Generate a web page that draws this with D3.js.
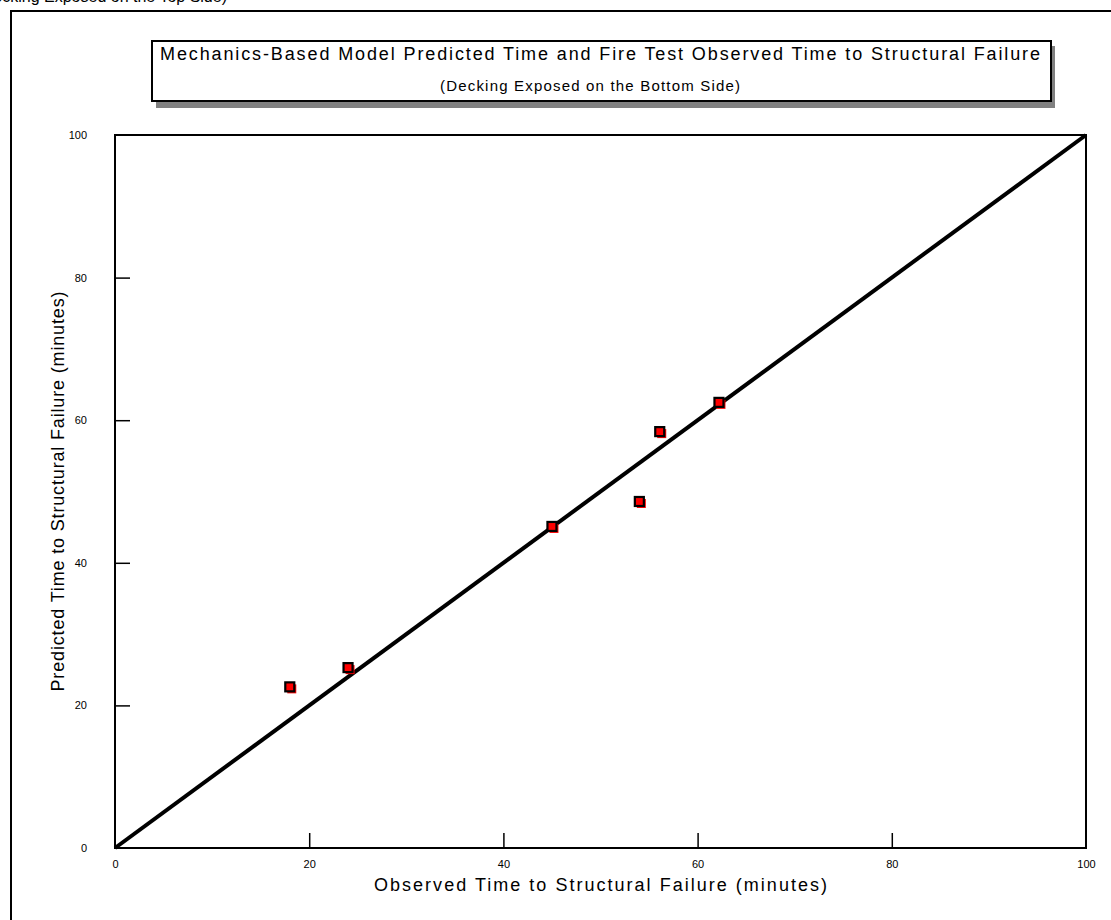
<!DOCTYPE html>
<html>
<head>
<meta charset="utf-8">
<script src="https://cdn.jsdelivr.net/npm/d3@7"></script>
<style>
  html, body { margin: 0; padding: 0; background: #fff; }
  svg { display: block; font-family: Arial, "Liberation Sans", sans-serif; }
</style>
</head>
<body>
<svg id="chart" width="1111" height="920"></svg>
<script>
// ---- data ----
const observed = [18.0, 24.0, 45.0, 54.0, 56.1, 62.2];
const predicted = [22.6, 25.3, 45.1, 48.6, 58.4, 62.5];
const refLineX = [0, 100];
const refLineY = [0, 100];
const xTicks = [0, 20, 40, 60, 80, 100];
const yTicks = [0, 20, 40, 60, 80, 100];
const titleLine1 = "Mechanics-Based Model Predicted Time and Fire Test Observed Time to Structural Failure";
const titleLine2 = "(Decking Exposed on the Bottom Side)";
const xTitle = "Observed Time to Structural Failure (minutes)";
const yTitle = "Predicted Time to Structural Failure (minutes)";
const clippedCaption = "(Decking Exposed on the Top Side)";

const svg = d3.select("#chart");

// clipped text from previous figure at the very top
svg.append("text").attr("x", 227).attr("y", 2).attr("text-anchor", "end")
  .attr("font-size", 16).attr("fill", "#000").text(clippedCaption);

// outer frame (extends off-canvas right/bottom)
svg.append("path").attr("d", "M11,925 L11,11 L1120,11")
  .attr("fill", "none").attr("stroke", "#000").attr("stroke-width", 2);

// plot area
const pLeft = 115, pRight = 1086, pTop = 135, pBottom = 848;
const x = d3.scaleLinear().domain([0, 100]).range([pLeft, pRight]);
const y = d3.scaleLinear().domain([0, 100]).range([pBottom, pTop]);

// frame of plot
svg.append("rect").attr("x", pLeft).attr("y", pTop)
  .attr("width", pRight - pLeft).attr("height", pBottom - pTop)
  .attr("fill", "none").attr("stroke", "#000").attr("stroke-width", 2);

// axes with inward ticks
const yAxis = d3.axisLeft(y).tickValues(yTicks).tickSize(-15).tickPadding(28).tickFormat(d3.format("d"));
const gy = svg.append("g").attr("transform", `translate(${pLeft},0)`).call(yAxis);
gy.select(".domain").remove();
gy.selectAll(".tick line").attr("stroke", "#000").attr("stroke-width", 1.5)
  .filter(d => d === 0 || d === 100).remove();
gy.selectAll(".tick text").attr("font-size", 11).attr("fill", "#000")
  .attr("font-family", "Arial, 'Liberation Sans', sans-serif");

const xAxis = d3.axisBottom(x).tickValues(xTicks).tickSize(-15).tickPadding(12).tickFormat(d3.format("d"));
const gx = svg.append("g").attr("transform", `translate(0,${pBottom})`).call(xAxis);
gx.select(".domain").remove();
gx.selectAll(".tick line").attr("stroke", "#000").attr("stroke-width", 1.5)
  .filter(d => d === 0 || d === 100).remove();
gx.selectAll(".tick text").attr("font-size", 11).attr("fill", "#000")
  .attr("font-family", "Arial, 'Liberation Sans', sans-serif");

// reference line y = x
const line = d3.line().x(d => x(d[0])).y(d => y(d[1]));
svg.append("path").datum(d3.zip(refLineX, refLineY))
  .attr("d", line).attr("fill", "none").attr("stroke", "#000")
  .attr("stroke-width", 4);

// points
const pts = d3.zip(observed, predicted);
const s = 9;
svg.append("g").selectAll("rect").data(pts).join("rect")
  .attr("x", d => x(d[0]) - s / 2 + 2).attr("y", d => y(d[1]) - s / 2 + 2)
  .attr("width", s).attr("height", s).attr("fill", "#ff0000");
svg.append("g").selectAll("rect").data(pts).join("rect")
  .attr("x", d => x(d[0]) - s / 2).attr("y", d => y(d[1]) - s / 2)
  .attr("width", s).attr("height", s).attr("fill", "#ff0000")
  .attr("stroke", "#000").attr("stroke-width", 2.2);

// axis titles
svg.append("text").attr("x", (pLeft + pRight) / 2).attr("y", 891)
  .attr("text-anchor", "middle").attr("font-size", 18)
  .attr("textLength", 453).attr("lengthAdjust", "spacing").text(xTitle);
svg.append("text").attr("transform", `translate(64,${(pTop + pBottom) / 2}) rotate(-90)`)
  .attr("text-anchor", "middle").attr("font-size", 18)
  .attr("textLength", 400).attr("lengthAdjust", "spacing").text(yTitle);

// title box
svg.append("rect").attr("x", 156).attr("y", 46).attr("width", 899).attr("height", 62).attr("fill", "#808080");
svg.append("rect").attr("x", 152).attr("y", 41).attr("width", 899).attr("height", 60)
  .attr("fill", "#fff").attr("stroke", "#000").attr("stroke-width", 2);
svg.append("text").attr("x", 160).attr("y", 60).attr("font-size", 18)
  .attr("textLength", 880).attr("lengthAdjust", "spacing").text(titleLine1);
svg.append("text").attr("x", 590).attr("y", 91).attr("text-anchor", "middle").attr("font-size", 15)
  .attr("textLength", 300).attr("lengthAdjust", "spacing").text(titleLine2);
</script>
</body>
</html>
